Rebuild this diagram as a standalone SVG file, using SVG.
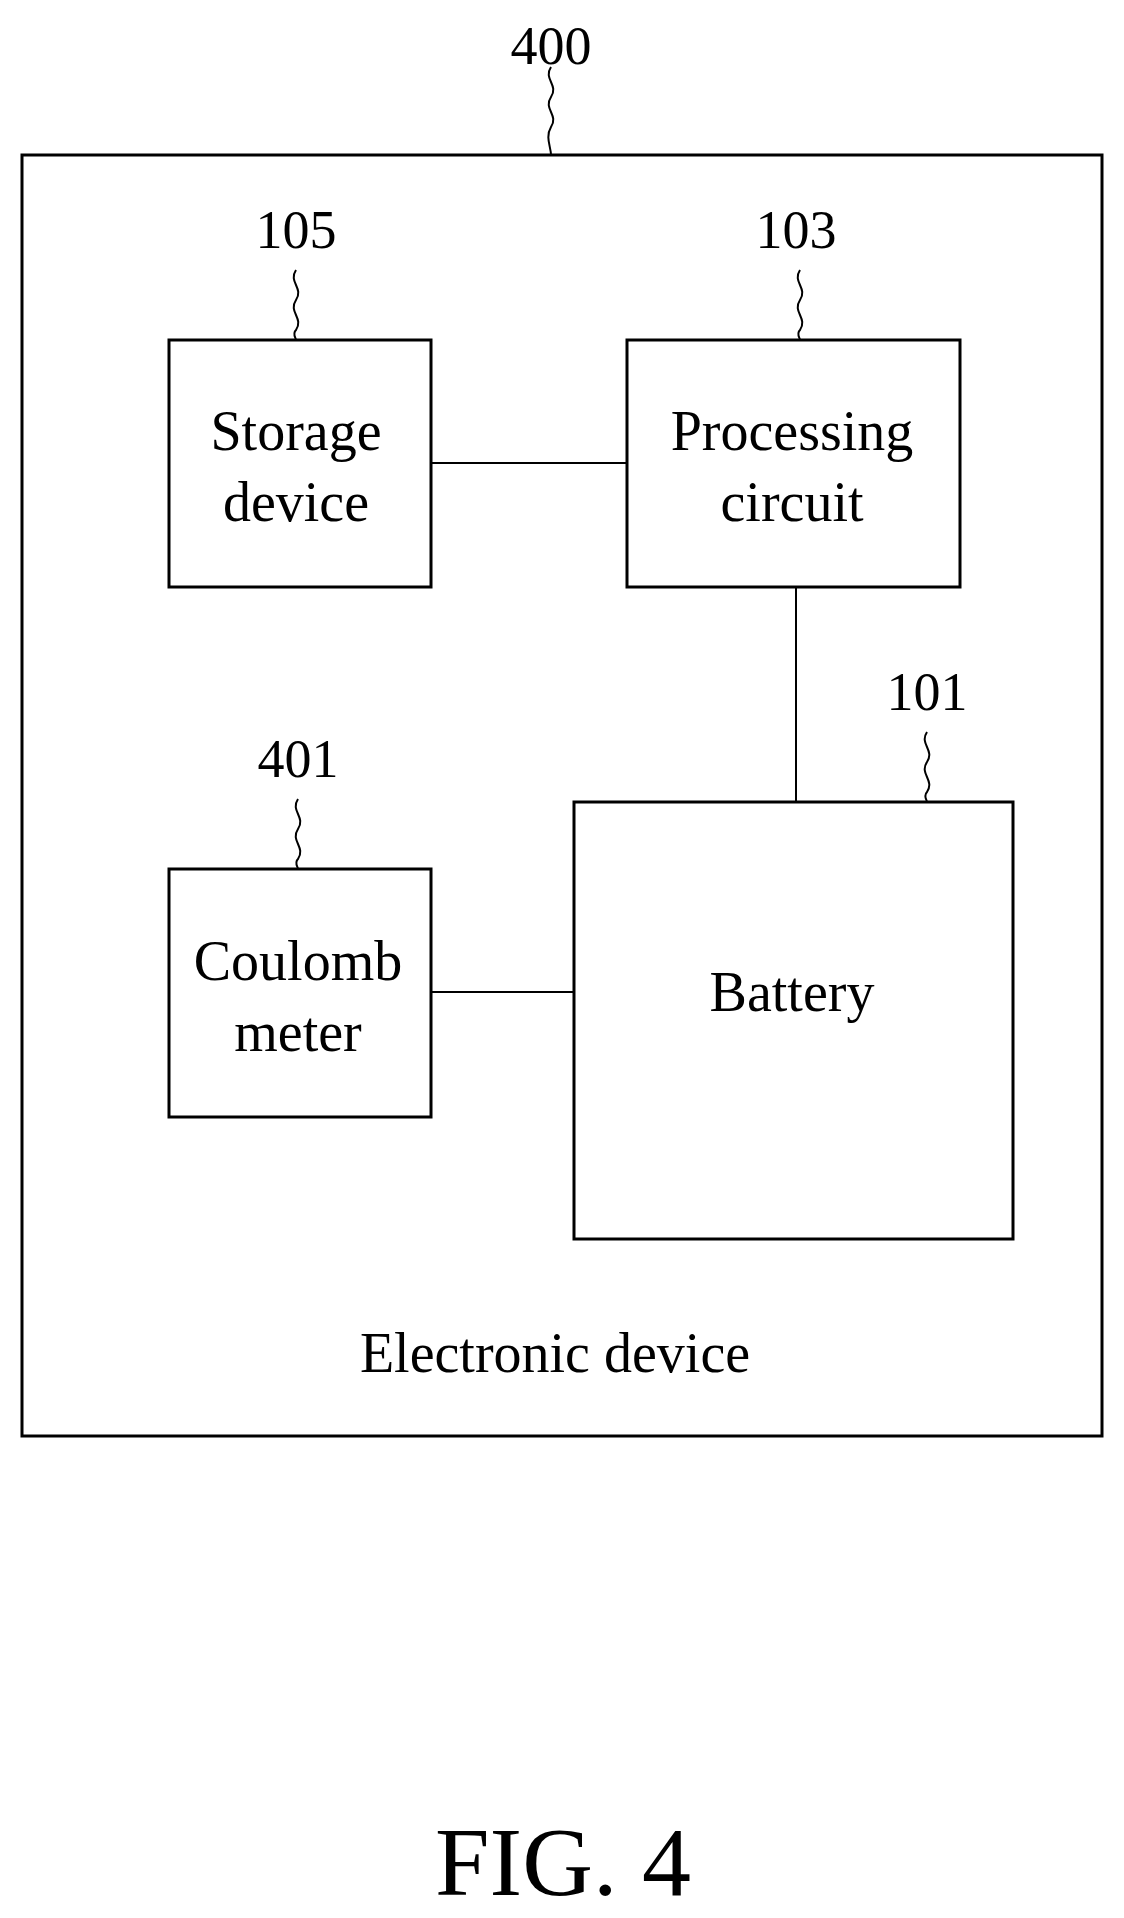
<svg xmlns="http://www.w3.org/2000/svg" width="1124" height="1918" viewBox="0 0 1124 1918">
<style>
.b{fill:none;stroke:#000;stroke-width:3}
.l{fill:none;stroke:#000;stroke-width:2}
text{font-family:"Liberation Serif",serif;text-anchor:middle;fill:#000}
.t{font-size:56px}
.n{font-size:54px}
</style>
<rect width="1124" height="1918" fill="#fff"/>
<g id="connectors">
<line class="l" x1="431" y1="463" x2="627" y2="463"/>
<line class="l" x1="796" y1="587" x2="796" y2="802"/>
<line class="l" x1="431" y1="992" x2="574" y2="992"/>
<path class="l" d="M551 67 c-8 12 8 18 0 30 c-8 12 8 18 0 30 c-6 10 0 20 0 28"/>
<path class="l" d="M296 270 c-8 12 8 18 0 30 c-8 12 8 18 0 30 c-4 4 0 8 0 10"/>
<path class="l" d="M800 270 c-8 12 8 18 0 30 c-8 12 8 18 0 30 c-4 4 0 8 0 10"/>
<path class="l" d="M927 732 c-8 12 8 18 0 30 c-8 12 8 18 0 30 c-4 4 0 8 0 10"/>
<path class="l" d="M298 799 c-8 12 8 18 0 30 c-8 12 8 18 0 30 c-4 4 0 8 0 10"/>
</g>
<g id="n400"><rect class="b" x="22" y="155" width="1080" height="1281"/><text class="n" x="551" y="64">400</text><text class="t" x="555" y="1372">Electronic device</text></g>
<g id="n105"><rect class="b" x="169" y="340" width="262" height="247"/><text class="n" x="296" y="248">105</text><text class="t" x="296" y="450">Storage</text><text class="t" x="296" y="521">device</text></g>
<g id="n103"><rect class="b" x="627" y="340" width="333" height="247"/><text class="n" x="796" y="248">103</text><text class="t" x="792" y="450">Processing</text><text class="t" x="792" y="521">circuit</text></g>
<g id="n101"><rect class="b" x="574" y="802" width="439" height="437"/><text class="n" x="927" y="710">101</text><text class="t" x="792" y="1011">Battery</text></g>
<g id="n401"><rect class="b" x="169" y="869" width="262" height="248"/><text class="n" x="298" y="777">401</text><text class="t" x="298" y="980">Coulomb</text><text class="t" x="298" y="1051">meter</text></g>
<text x="563" y="1895" style="font-size:98px">FIG. 4</text>
</svg>
